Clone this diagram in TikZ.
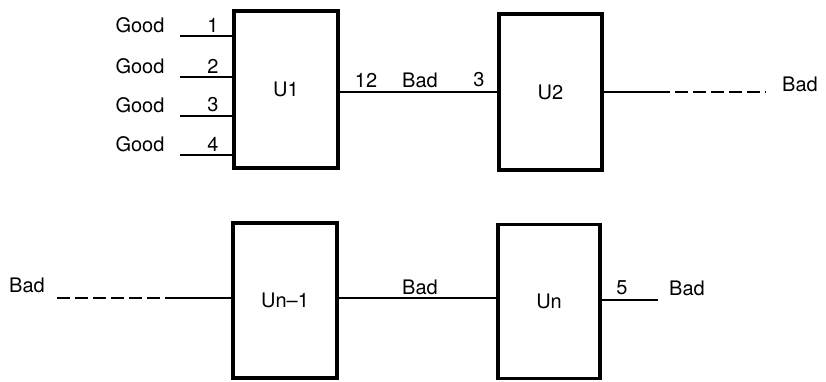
\documentclass[tikz,border=0pt]{standalone}
\usepackage{fontspec}
\setmainfont{TeX Gyre Heros}
\tikzset{
  unitbox/.style={draw=black, line width=3.4pt, minimum width=104pt, minimum height=157pt, inner sep=0pt, font=\fontsize{20}{22}\selectfont},
  wire/.style={line width=1.6pt, draw=black},
  dashwire/.style={line width=2.6pt, draw=black, dash pattern=on 13pt off 5pt},
  pinlabel/.style={font=\fontsize{20}{22}\selectfont, inner sep=0pt},
}

\begin{document}
\begin{tikzpicture}[x=1pt, y=-1pt]
\useasboundingbox (0,0) rectangle (826,382);
% the four units
\node[unitbox] (u1) at (286,89.5) {U1};
\node[unitbox, minimum width=103pt, minimum height=156pt] (u2) at (550.5,92) {U2};
\node[unitbox, minimum height=155pt] (unm) at (285,300.5) {Un--1};
\node[unitbox, minimum width=102pt, minimum height=154pt] (un) at (549,301.5) {Un};
% inputs of U1
\foreach \n/\y in {1/36, 2/77, 3/116, 4/155} {
  \coordinate (in\n) at (180,\y);
  \draw[wire] (in\n) -- (in\n -| u1.west);
  \node[pinlabel] (good\n) at (140,\y-11) {Good};
  \node[pinlabel] (pin\n) at (213,\y-11) {\n};
}
% U1 to U2
\draw[wire] (u2.west -| u1.east) -- (u2.west);
\node[pinlabel] (pin12) at (366,80) {12};
\node[pinlabel] (bad1) at (420,80) {Bad};
\node[pinlabel] (pin3) at (479,80) {3};
% U2 onwards
\coordinate (outa) at (657,92);
\coordinate (outb) at (766,92);
\draw[wire] (u2.east) -- (outa);
\draw[dashwire] (outa) -- (outb);
\node[pinlabel] (bad2) at (800,84) {Bad};
% into Un-1
\coordinate (ina) at (57,298);
\coordinate (inb) at (177,298);
\draw[dashwire] (ina) -- (inb);
\draw[wire] (inb) -- (inb -| unm.west);
\node[pinlabel] (bad3) at (27,285) {Bad};
% Un-1 to Un
\draw[wire] (inb -| unm.east) -- (inb -| un.west);
\node[pinlabel] (bad4) at (420,287) {Bad};
% out of Un
\coordinate (out5) at (658,300);
\draw[wire] (out5 -| un.east) -- (out5);
\node[pinlabel] (pin5) at (622,288) {5};
\node[pinlabel] (bad5) at (687,288) {Bad};
\end{tikzpicture}
\end{document}
